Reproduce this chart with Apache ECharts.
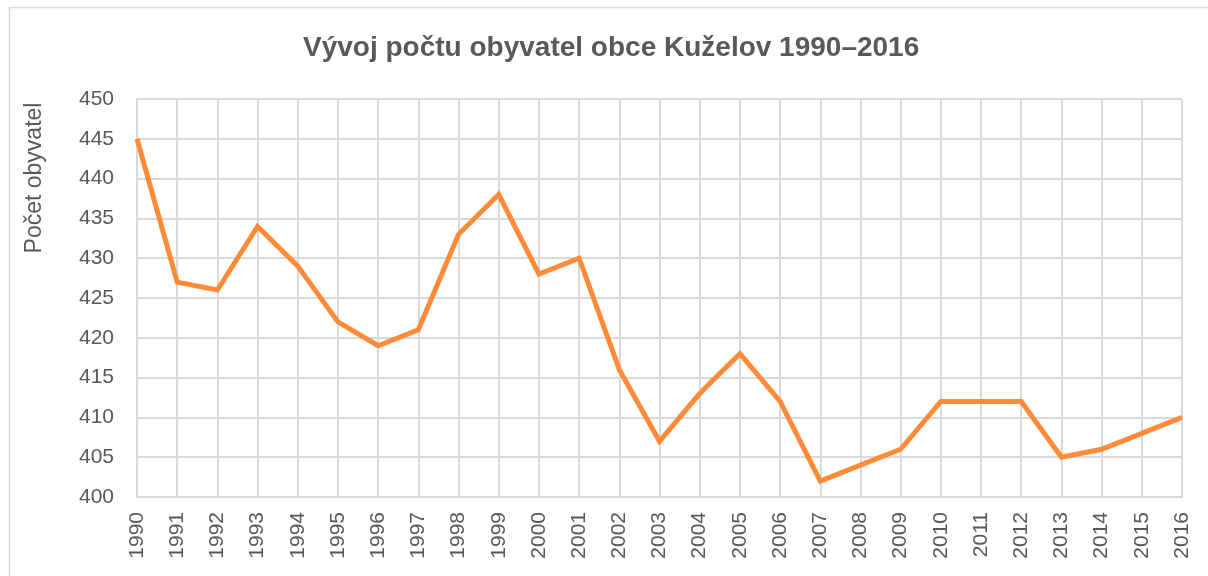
<!DOCTYPE html>
<html>
<head>
<meta charset="utf-8">
<script src="https://cdn.jsdelivr.net/npm/echarts@6/dist/echarts.min.js"></script>
<style>
  html, body { margin: 0; padding: 0; background: #fff; }
  #main { width: 1208px; height: 576px; }
</style>
</head>
<body>
<div id="main"></div>
<script>
// data
const years = ['1990', '1991', '1992', '1993', '1994', '1995', '1996', '1997', '1998', '1999',
  '2000', '2001', '2002', '2003', '2004', '2005', '2006', '2007', '2008', '2009',
  '2010', '2011', '2012', '2013', '2014', '2015', '2016'];
const population = [445, 427, 426, 434, 429, 422, 419, 421, 433, 438,
  428, 430, 416, 407, 413, 418, 412, 402, 404, 406,
  412, 412, 412, 405, 406, 408, 410];
const chartTitle = 'Vývoj počtu obyvatel obce Kuželov 1990–2016';
const yTitle = 'Počet obyvatel';

const textColor = '#595959';
const gridColor = '#d9d9d9';
const font = 'Liberation Sans';

const myChart = echarts.init(document.getElementById('main'), null, { renderer: 'canvas' });

const option = {
  backgroundColor: '#fff',
  animation: false,
  title: {
    text: chartTitle,
    left: 298,
    top: 29,
    textStyle: { fontFamily: font, fontSize: 28, fontWeight: 'bold', color: textColor }
  },
  graphic: [
    {
      type: 'rect',
      shape: { x: 9.5, y: 7.5, width: 1300, height: 700 },
      style: { fill: 'none', stroke: gridColor, lineWidth: 1.5 },
      silent: true
    },
    {
      type: 'text',
      x: 35,
      y: 178,
      rotation: Math.PI / 2,
      style: {
        text: yTitle,
        fontFamily: font,
        fontSize: 23,
        fill: textColor,
        align: 'center',
        verticalAlign: 'middle'
      }
    }
  ],
  grid: { left: 137, right: 26, top: 99, bottom: 79, containLabel: false },
  xAxis: {
    type: 'category',
    data: years,
    boundaryGap: false,
    axisLine: { show: true, lineStyle: { color: gridColor, width: 2 } },
    axisTick: { show: false },
    axisLabel: {
      rotate: 90,
      margin: 15,
      interval: 0,
      fontFamily: font,
      fontSize: 21,
      color: textColor
    },
    splitLine: { show: true, lineStyle: { color: gridColor, width: 2 } }
  },
  yAxis: {
    type: 'value',
    min: 400,
    max: 450,
    interval: 5,
    axisLine: { show: true, lineStyle: { color: gridColor, width: 2 } },
    axisTick: { show: false },
    axisLabel: { margin: 23, fontFamily: font, fontSize: 21, color: textColor },
    splitLine: { show: true, lineStyle: { color: gridColor, width: 2 } }
  },
  series: [
    {
      type: 'line',
      data: population,
      symbol: 'none',
      lineStyle: { color: '#ff8b38', width: 5, join: 'miter' },
      itemStyle: { color: '#ff8b38' }
    }
  ]
};

myChart.setOption(option);
</script>
</body>
</html>
